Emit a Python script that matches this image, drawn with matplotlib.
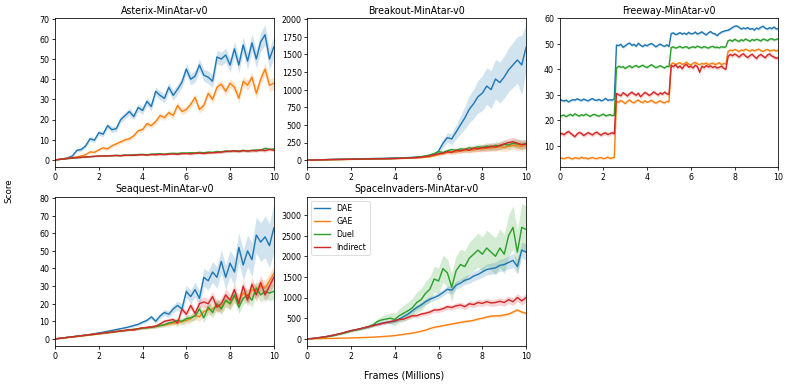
import numpy as np
import matplotlib
matplotlib.use("Agg")
import matplotlib.pyplot as plt

# ---------------- data ----------------
methods = ["DAE", "GAE", "Duel", "Indirect"]
colors = ["#1f77b4", "#ff7f0e", "#2ca02c", "#d62728"]
titles = ["Asterix-MinAtar-v0", "Breakout-MinAtar-v0", "Freeway-MinAtar-v0",
          "Seaquest-MinAtar-v0", "SpaceInvaders-MinAtar-v0"]
xticks = [0, 2, 4, 6, 8, 10]

frames = np.linspace(0, 10, 51)      # millions of frames (0.2 M steps)
frames_fw = np.linspace(0, 10, 101)  # Freeway logged every 0.1 M

# Asterix
ast_dae = [0.0, 0.3, 0.6, 1.2, 2.0, 4.8, 5.2, 7.0, 10.5, 9.8,
           13.5, 12.8, 17.0, 15.0, 15.5, 20.0, 22.0, 24.0, 21.5, 26.0,
           24.5, 29.0, 26.5, 34.0, 32.0, 30.5, 36.0, 32.0, 35.0, 38.5,
           45.0, 40.0, 41.5, 47.0, 42.0, 41.0, 39.0, 51.0, 50.0, 52.0,
           47.0, 55.0, 47.0, 57.0, 49.0, 58.0, 50.0, 58.5, 62.0, 50.0, 56.0]
ast_dae_sd = [0.1, 0.2, 0.3, 0.4, 0.5, 0.8, 0.9, 1.0, 1.2, 1.2,
              1.3, 1.3, 1.5, 1.5, 1.5, 1.6, 1.7, 1.8, 1.8, 1.9,
              2.0, 2.0, 2.1, 2.2, 2.2, 2.3, 2.4, 2.4, 2.5, 2.6,
              2.8, 2.8, 2.9, 3.0, 3.0, 3.1, 3.2, 3.3, 3.4, 3.5,
              3.6, 3.8, 3.9, 4.0, 4.2, 4.4, 4.5, 4.7, 5.0, 5.2, 5.5]
ast_gae = [0.0, 0.3, 0.6, 0.9, 1.2, 1.5, 2.0, 2.6, 4.0, 3.8,
           5.0, 6.0, 5.5, 7.0, 8.0, 9.0, 10.0, 10.5, 12.0, 14.5,
           15.0, 18.0, 17.0, 19.0, 22.0, 21.0, 23.5, 22.0, 27.0, 24.0,
           25.0, 27.5, 31.0, 25.0, 27.0, 33.0, 30.0, 36.0, 37.5, 34.0,
           38.0, 36.0, 30.5, 39.0, 37.0, 41.0, 33.0, 40.0, 45.0, 37.0, 38.0]
ast_gae_sd = [0.1, 0.2, 0.2, 0.3, 0.3, 0.4, 0.5, 0.5, 0.6, 0.6,
              0.7, 0.7, 0.8, 0.8, 0.9, 0.9, 1.0, 1.0, 1.1, 1.1,
              1.2, 1.2, 1.3, 1.3, 1.4, 1.4, 1.5, 1.5, 1.6, 1.6,
              1.7, 1.7, 1.8, 1.8, 1.9, 1.9, 2.0, 2.0, 2.1, 2.2,
              2.2, 2.3, 2.4, 2.5, 2.6, 2.7, 2.8, 2.9, 3.0, 3.1, 3.2]
ast_duel = [0.0, 0.3, 0.5, 0.7, 0.9, 1.1, 1.3, 1.5, 1.7, 1.8,
            2.0, 2.0, 2.1, 2.2, 2.3, 2.2, 2.5, 2.4, 2.6, 2.7,
            2.8, 2.6, 2.9, 3.0, 3.1, 2.9, 3.2, 3.3, 3.2, 3.5,
            3.4, 3.6, 3.5, 3.8, 3.6, 3.9, 3.8, 4.2, 4.0, 4.5,
            4.3, 4.6, 4.4, 4.8, 4.5, 4.7, 5.0, 4.8, 5.8, 5.2, 5.5]
ast_duel_sd = [0.1, 0.1, 0.2, 0.2, 0.2, 0.2, 0.3, 0.3, 0.3, 0.3,
               0.3, 0.3, 0.3, 0.3, 0.4, 0.4, 0.4, 0.4, 0.4, 0.4,
               0.4, 0.4, 0.4, 0.5, 0.5, 0.5, 0.5, 0.5, 0.5, 0.5,
               0.5, 0.5, 0.5, 0.5, 0.5, 0.6, 0.6, 0.6, 0.6, 0.6,
               0.6, 0.6, 0.6, 0.6, 0.7, 0.7, 0.7, 0.7, 0.8, 0.7, 0.7]
ast_ind = [0.0, 0.3, 0.5, 0.8, 1.0, 1.2, 1.3, 1.5, 1.6, 1.8,
           1.9, 2.0, 2.0, 2.1, 2.2, 2.1, 2.3, 2.4, 2.3, 2.5,
           2.6, 2.4, 2.7, 2.6, 2.8, 2.7, 2.9, 3.0, 2.8, 3.1,
           3.2, 3.0, 3.3, 3.4, 3.2, 3.5, 3.6, 3.7, 3.9, 4.2,
           4.3, 4.5, 4.2, 4.6, 4.4, 4.7, 4.5, 5.0, 4.6, 5.3, 4.8]
ast_ind_sd = ast_duel_sd

# Breakout
brk_dae = [0, 2, 4, 6, 8, 10, 12, 14, 15, 16,
           18, 19, 20, 21, 22, 24, 25, 26, 28, 30,
           32, 33, 35, 37, 40, 45, 50, 55, 65, 80,
           130, 240, 320, 300, 400, 500, 600, 720, 800, 900,
           950, 1050, 1000, 1150, 1100, 1180, 1280, 1350, 1420, 1350, 1600]
brk_dae_sd = [0, 1, 1, 2, 2, 2, 3, 3, 3, 3,
              3, 4, 4, 4, 4, 5, 5, 5, 5, 6,
              6, 6, 7, 7, 8, 9, 10, 12, 15, 20,
              40, 60, 70, 80, 100, 130, 160, 190, 210, 230,
              250, 260, 270, 280, 290, 300, 310, 320, 330, 420, 320]
brk_gae = [0, 1, 3, 4, 5, 6, 7, 8, 9, 10,
           11, 12, 13, 14, 15, 16, 17, 18, 19, 20,
           22, 24, 26, 28, 30, 33, 36, 42, 50, 65,
           80, 95, 110, 120, 115, 135, 140, 150, 145, 165,
           160, 175, 170, 185, 190, 180, 200, 210, 205, 195, 215]
brk_duel = [0, 2, 4, 5, 7, 8, 9, 10, 11, 12,
            13, 14, 15, 16, 17, 18, 19, 20, 21, 23,
            25, 27, 29, 32, 36, 42, 48, 60, 75, 95,
            120, 110, 135, 150, 140, 160, 150, 175, 165, 190,
            180, 200, 185, 210, 200, 225, 215, 240, 230, 220, 235]
brk_ind = [0, 2, 3, 5, 6, 8, 9, 10, 11, 12,
           13, 14, 15, 16, 17, 18, 19, 20, 21, 22,
           24, 26, 28, 30, 33, 37, 42, 50, 60, 75,
           90, 100, 120, 110, 140, 130, 155, 140, 170, 160,
           180, 175, 200, 185, 210, 230, 250, 260, 240, 220, 230]
brk_low_sd = [0, 1, 1, 1, 1, 1, 2, 2, 2, 2,
              2, 2, 2, 3, 3, 3, 3, 3, 3, 4,
              4, 4, 5, 5, 6, 7, 8, 10, 12, 15,
              20, 22, 25, 28, 30, 32, 35, 38, 40, 42,
              45, 48, 50, 52, 55, 58, 60, 62, 65, 65, 60]

# Freeway
fw_dae = [28.2, 27.8, 27.5, 27.9, 27.2, 27.6, 28.1, 27.9, 28.4, 28.0,
          27.7, 28.3, 27.9, 27.6, 28.1, 28.5, 27.9, 27.8, 28.2, 27.6,
          27.9, 28.6, 27.8, 28.0, 27.9, 28.3,
          49.5, 49.3, 49.8, 48.6, 49.2, 49.9, 50.3, 49.4, 49.8, 49.0,
          50.2, 49.4, 48.9, 49.6, 49.2, 49.8, 50.1, 49.5, 48.8, 49.4,
          49.9, 49.3, 49.0, 49.6, 48.9,
          54.0, 54.3, 53.6, 53.9, 54.4, 53.8, 54.2, 53.7, 54.5, 53.9,
          54.0, 54.6, 53.8, 54.2, 54.7, 54.0, 53.5, 54.3, 54.8, 54.1,
          53.9, 53.2, 54.0, 54.6, 54.9, 55.2,
          55.3, 55.8, 56.4, 56.9, 57.0, 56.5, 55.8, 56.2, 55.9, 56.4,
          55.7, 56.0, 55.4, 56.2, 55.8, 56.5, 56.9, 56.1, 55.8, 56.3,
          55.9, 56.6, 55.8, 56.0]
fw_gae = [5.3, 5.1, 4.9, 5.2, 5.4, 5.0, 4.8, 5.3, 5.1, 4.9,
          5.5, 5.0, 5.2, 4.8, 5.1, 5.4, 5.0, 4.9, 5.2, 5.3,
          4.9, 5.1, 5.5, 5.0, 5.2, 5.4,
          27.5, 27.0, 27.8, 27.2, 26.5, 27.4, 28.0, 27.1, 26.8, 27.5,
          27.9, 27.2, 26.9, 27.6, 27.0, 27.4, 27.8, 27.1, 26.7, 27.3,
          27.6, 27.0, 26.8, 27.4, 27.2,
          42.0, 42.5, 41.8, 42.3, 42.6, 41.9, 42.2, 42.8, 42.0, 41.6,
          42.4, 42.7, 42.1, 41.8, 42.3, 42.0, 42.5, 41.7, 42.2, 42.4,
          41.9, 42.1, 42.6, 41.8, 42.3, 42.0,
          47.0, 47.5, 47.2, 47.8, 47.4, 46.9, 47.6, 47.3, 47.9, 47.5,
          47.1, 47.7, 47.2, 47.6, 47.9, 47.3, 47.0, 47.5, 47.8, 47.2,
          47.4, 47.6, 47.1, 47.6]
fw_duel = [21.5, 21.8, 22.0, 21.4, 21.9, 22.3, 21.7, 22.5, 22.0, 21.6,
           22.2, 21.8, 22.4, 21.9, 21.5, 22.1, 22.3, 21.8, 21.6, 22.0,
           22.4, 21.7, 21.9, 22.2, 21.8, 22.0,
           40.5, 41.2, 40.8, 41.0, 40.3, 40.9, 41.4, 40.6, 41.1, 41.5,
           40.8, 41.2, 41.6, 41.0, 40.7, 41.3, 41.8, 41.2, 40.6, 41.0,
           41.4, 40.9, 40.5, 41.2, 41.0,
           48.5, 48.8, 48.3, 48.6, 49.0, 48.4, 48.7, 48.9, 48.2, 48.6,
           48.8, 48.5, 49.1, 48.7, 48.4, 48.9, 48.6, 48.3, 48.8, 49.0,
           48.5, 48.7, 48.4, 48.9, 48.6, 48.8,
           51.2, 51.5, 51.0, 51.8, 51.3, 50.9, 51.6, 51.2, 51.9, 51.4,
           51.0, 51.7, 51.3, 51.8, 51.5, 51.1, 51.9, 51.6, 51.2, 51.8,
           52.0, 51.5, 51.7, 52.1]
fw_ind = [14.5, 14.8, 14.3, 15.0, 15.6, 14.9, 14.2, 13.5, 14.6, 15.2,
          14.8, 14.0, 14.5, 15.1, 14.7, 14.2, 14.9, 15.3, 14.6, 14.1,
          14.8, 15.0, 14.4, 14.7, 15.1, 14.6,
          30.5, 30.0, 29.6, 30.8, 30.2, 29.5, 30.4, 31.0, 30.3, 29.8,
          30.6, 29.2, 30.1, 30.9, 30.4, 29.7, 30.3, 31.1, 30.5, 29.9,
          30.7, 30.2, 31.0, 30.4, 30.1,
          41.5, 41.0, 41.8, 40.6, 41.3, 40.2, 41.5, 41.9, 40.8, 41.2,
          40.5, 41.6, 41.0, 38.8, 41.2, 40.6, 41.4, 40.9, 41.3, 40.7,
          41.1, 40.5, 40.8, 41.2, 40.4, 40.0,
          45.0, 45.8, 45.3, 46.0, 45.5, 44.8, 45.6, 46.1, 45.2, 44.6,
          45.4, 45.9, 45.0, 44.2, 45.3, 45.8, 45.1, 44.5, 45.6, 46.0,
          45.2, 44.8, 44.3, 44.6]
fw_sd = [0.5, 0.5, 0.5, 0.8]

# Seaquest
sq_dae = [0.0, 0.3, 0.6, 0.9, 1.2, 1.5, 1.8, 2.1, 2.5, 2.9,
          3.4, 3.8, 4.3, 4.8, 5.3, 5.8, 6.3, 6.9, 7.6, 8.3,
          9.5, 10.5, 12.5, 10.0, 13.0, 15.0, 14.0, 17.0, 19.0, 17.0,
          27.0, 24.0, 28.0, 23.0, 35.0, 33.0, 38.0, 35.0, 44.0, 35.0,
          43.0, 38.0, 52.0, 42.0, 50.0, 45.0, 59.0, 55.0, 58.0, 53.0, 63.0]
sq_dae_sd = [0.0, 0.1, 0.1, 0.2, 0.2, 0.2, 0.3, 0.3, 0.3, 0.4,
             0.4, 0.4, 0.5, 0.5, 0.5, 0.6, 0.6, 0.7, 0.7, 0.8,
             0.9, 1.0, 1.2, 1.4, 1.6, 1.8, 2.0, 2.3, 2.6, 3.0,
             3.4, 3.8, 4.2, 4.6, 5.0, 5.4, 5.8, 6.2, 6.6, 7.0,
             7.4, 7.8, 8.2, 8.6, 9.0, 9.6, 10.2, 11.0, 11.8, 12.6, 14.0]
sq_gae = [0.0, 0.2, 0.5, 0.8, 1.0, 1.3, 1.6, 1.9, 2.2, 2.5,
          2.8, 3.1, 3.4, 3.8, 4.1, 4.5, 4.8, 5.2, 5.5, 5.8,
          6.2, 6.5, 6.9, 7.2, 7.6, 8.0, 8.4, 8.9, 9.3, 9.8,
          10.5, 11.5, 13.5, 12.5, 15.5, 16.5, 17.0, 19.0, 18.0, 21.5,
          20.0, 24.0, 22.0, 26.0, 24.0, 28.0, 27.0, 30.0, 29.0, 33.0, 37.0]
sq_duel = [0.0, 0.3, 0.6, 0.9, 1.2, 1.5, 1.8, 2.1, 2.4, 2.7,
           3.0, 3.3, 3.6, 3.9, 4.2, 4.5, 4.8, 5.1, 5.4, 5.7,
           6.0, 6.3, 6.6, 7.0, 7.5, 8.0, 9.0, 9.5, 10.5, 10.0,
           11.5, 12.0, 13.0, 17.0, 12.0, 18.0, 15.0, 20.0, 17.0, 22.0,
           20.0, 25.0, 18.0, 23.0, 25.0, 22.0, 29.0, 25.0, 27.0, 26.0, 27.0]
sq_ind = [0.0, 0.3, 0.6, 0.9, 1.2, 1.5, 1.8, 2.1, 2.4, 2.7,
          3.0, 3.3, 3.6, 3.9, 4.2, 4.5, 4.8, 5.2, 5.0, 5.8,
          6.3, 6.5, 6.8, 7.2, 8.5, 10.0, 10.5, 11.0, 9.0, 17.0,
          14.0, 19.0, 14.5, 20.0, 21.0, 20.0, 24.0, 18.0, 20.0, 25.0,
          22.0, 28.0, 20.0, 30.0, 22.0, 31.0, 25.0, 32.0, 25.0, 30.0, 35.0]
sq_low_sd = [0.0, 0.1, 0.1, 0.1, 0.2, 0.2, 0.2, 0.2, 0.3, 0.3,
             0.3, 0.3, 0.4, 0.4, 0.4, 0.4, 0.5, 0.5, 0.5, 0.6,
             0.6, 0.7, 0.8, 0.9, 1.0, 1.1, 1.2, 1.4, 1.6, 1.8,
             2.0, 2.2, 2.4, 2.6, 2.8, 3.0, 3.0, 3.2, 3.2, 3.4,
             3.4, 3.5, 3.6, 3.7, 3.8, 3.9, 4.0, 4.1, 4.2, 4.3, 4.5]

# SpaceInvaders
si_dae = [0, 8, 20, 35, 50, 70, 90, 115, 140, 170,
          200, 220, 240, 265, 290, 330, 350, 380, 400, 410,
          430, 480, 540, 600, 680, 760, 820, 900, 960, 1000,
          1050, 1120, 1200, 1180, 1300, 1350, 1420, 1450, 1520, 1560,
          1620, 1680, 1700, 1720, 1780, 1800, 1850, 1900, 1750, 2150, 2100]
si_dae_sd = [0, 3, 5, 8, 10, 12, 14, 16, 18, 20,
             22, 24, 26, 28, 30, 32, 34, 36, 38, 40,
             42, 45, 48, 52, 56, 60, 64, 68, 72, 76,
             80, 84, 88, 92, 96, 100, 105, 110, 115, 120,
             125, 130, 135, 140, 145, 150, 160, 170, 180, 190, 200]
si_gae = [0, 2, 4, 6, 8, 10, 12, 14, 17, 20,
          23, 26, 30, 34, 38, 42, 48, 55, 62, 70,
          80, 95, 110, 125, 140, 160, 185, 210, 250, 280,
          300, 320, 340, 360, 380, 400, 420, 430, 450, 480,
          500, 530, 550, 560, 560, 580, 600, 650, 700, 650, 620]
si_gae_sd = [0, 1, 1, 1, 2, 2, 2, 2, 3, 3,
             3, 3, 4, 4, 4, 5, 5, 6, 6, 7,
             8, 9, 10, 11, 12, 13, 14, 15, 16, 17,
             18, 19, 20, 21, 22, 23, 24, 25, 26, 27,
             28, 29, 30, 31, 32, 33, 34, 35, 36, 37, 38]
si_duel = [0, 5, 15, 30, 45, 60, 80, 105, 130, 160,
           190, 215, 240, 270, 300, 340, 420, 460, 480, 500,
           470, 560, 620, 680, 750, 880, 950, 1100, 1200, 1450,
           1400, 1700, 1600, 1250, 1650, 1800, 1750, 1950, 2050, 2150,
           2050, 2200, 2100, 2000, 2200, 2050, 2500, 2700, 2100, 2700, 2650]
si_duel_sd = [0, 3, 6, 9, 12, 15, 18, 21, 24, 27,
              30, 33, 36, 40, 45, 50, 70, 90, 110, 130,
              150, 170, 190, 210, 230, 250, 270, 290, 300, 310,
              320, 330, 340, 350, 360, 370, 380, 390, 400, 410,
              420, 430, 440, 450, 460, 480, 500, 520, 540, 580, 560]
si_ind = [0, 8, 20, 35, 50, 70, 90, 115, 140, 170,
          200, 220, 245, 270, 295, 320, 345, 370, 395, 420,
          440, 470, 480, 520, 560, 560, 600, 620, 650, 700,
          700, 730, 780, 760, 800, 820, 780, 850, 830, 880,
          860, 900, 870, 880, 910, 880, 950, 900, 1000, 920, 1000]
si_ind_sd = [0, 2, 4, 6, 8, 10, 12, 14, 16, 18,
             20, 22, 24, 26, 28, 30, 32, 34, 36, 38,
             40, 42, 44, 46, 48, 50, 52, 54, 56, 58,
             60, 62, 64, 66, 68, 70, 72, 74, 76, 78,
             80, 82, 84, 86, 88, 90, 92, 94, 96, 98, 100]

panels = [
    (frames, [ast_dae, ast_gae, ast_duel, ast_ind],
     [ast_dae_sd, ast_gae_sd, ast_duel_sd, ast_ind_sd]),
    (frames, [brk_dae, brk_gae, brk_duel, brk_ind],
     [brk_dae_sd, brk_low_sd, brk_low_sd, brk_low_sd]),
    (frames_fw, [fw_dae, fw_gae, fw_duel, fw_ind], fw_sd),
    (frames, [sq_dae, sq_gae, sq_duel, sq_ind],
     [sq_dae_sd, sq_low_sd, sq_low_sd, sq_low_sd]),
    (frames, [si_dae, si_gae, si_duel, si_ind],
     [si_dae_sd, si_gae_sd, si_duel_sd, si_ind_sd]),
]

# ---------------- plot ----------------
DPI = 57
fig, axes = plt.subplots(2, 3, figsize=(789.4 / DPI, 387.4 / DPI), dpi=DPI)
fig.subplots_adjust(left=55 / 789, right=778 / 789,
                    top=1 - 18.3 / 387, bottom=1 - 345.7 / 387,
                    wspace=0.153, hspace=0.199)
flat = axes.ravel()
for i, (x, series, sds) in enumerate(panels):
    ax = flat[i]
    for j, (name, col) in enumerate(zip(methods, colors)):
        y = np.asarray(series[j], dtype=float)
        sd = np.asarray(sds[j], dtype=float)
        ax.fill_between(x, y - sd, y + sd, color=col, alpha=0.2, linewidth=0)
        ax.plot(x, y, color=col, lw=1.8, label=name)
    ax.set_title(titles[i], fontsize=12)
    ax.set_xlim(0, 10)
    ax.set_xticks(xticks)
    ax.tick_params(labelsize=10, width=1.0)
    for s in ax.spines.values():
        s.set_linewidth(1.0)

flat[4].legend(loc="upper left", fontsize=10)
flat[5].axis("off")

fig.text(9.2 / 789, 1 - 190 / 387, "Score", rotation=90,
         ha="center", va="center", fontsize=11)
fig.text(403.7 / 789, 1 - 375 / 387, "Frames (Millions)",
         ha="center", va="center", fontsize=12)

fig.savefig("out.png", dpi=DPI)
